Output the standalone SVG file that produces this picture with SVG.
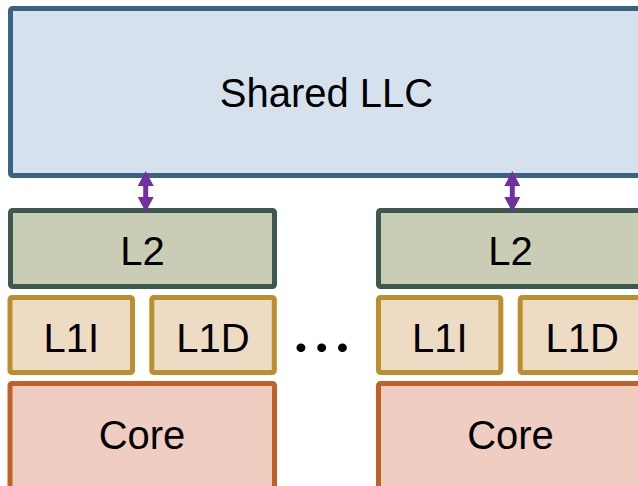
<svg xmlns="http://www.w3.org/2000/svg" width="638" height="486" viewBox="0 0 638 486">
  <defs>
    <style>
      .box { stroke-width: 5; stroke-linejoin: round; }
      .llc { fill: #d5e2ed; stroke: #3b6183; }
      .l2 { fill: #c9cdb6; stroke: #3e574f; }
      .l1 { fill: #eddcc3; stroke: #b98f2f; }
      .core { fill: #f0cdc1; stroke: #c1612a; }
      .lbl { font-family: "Liberation Sans", Arial, sans-serif; font-size: 40px; fill: #000; text-anchor: middle; }
      .link { fill: #7030a0; }
    </style>
    <!-- double-headed link, centred on x=0 -->
    <path id="dbl" d="M0,171 L8,186 L2.5,186 L2.5,197 L8,197 L0,212 L-8,197 L-2.5,197 L-2.5,186 L-8,186 Z"/>
  </defs>
  <rect width="638" height="486" fill="#ffffff"/>

  <g id="llc">
    <rect class="box llc" x="10.5" y="8.5" width="660" height="167" rx="2"/>
    <text class="lbl" x="326.5" y="107">Shared LLC</text>
  </g>

  <!-- first core tile -->
  <g id="l2-a">
    <rect class="box l2" x="10.5" y="210.5" width="264" height="76" rx="2"/>
    <text class="lbl" x="142.5" y="265">L2</text>
  </g>
  <g id="l1i-a">
    <rect class="box l1" x="10" y="297.5" width="122.5" height="75" rx="2"/>
    <text class="lbl" x="71.3" y="352">L1I</text>
  </g>
  <g id="l1d-a">
    <rect class="box l1" x="151.8" y="297.5" width="122.5" height="75" rx="2"/>
    <text class="lbl" x="213" y="352">L1D</text>
  </g>
  <g id="core-a">
    <rect class="box core" x="10" y="383.5" width="264.5" height="120" rx="2"/>
    <text class="lbl" x="142" y="449">Core</text>
  </g>

  <g id="ellipsis">
    <text x="325.7" y="352" font-family="Lato, sans-serif" font-weight="900" font-size="54" text-anchor="middle" letter-spacing="8">...</text>
  </g>

  <!-- second core tile -->
  <g id="l2-b">
    <rect class="box l2" x="378.5" y="210.5" width="300" height="76" rx="2"/>
    <text class="lbl" x="510.5" y="265">L2</text>
  </g>
  <g id="l1i-b">
    <rect class="box l1" x="378.5" y="297.5" width="122.3" height="75" rx="2"/>
    <text class="lbl" x="439.7" y="352">L1I</text>
  </g>
  <g id="l1d-b">
    <rect class="box l1" x="520.2" y="297.5" width="160" height="75" rx="2"/>
    <text class="lbl" x="582.3" y="352">L1D</text>
  </g>
  <g id="core-b">
    <rect class="box core" x="378.5" y="383.5" width="300" height="120" rx="2"/>
    <text class="lbl" x="510.5" y="449">Core</text>
  </g>

  <g id="connectors">
    <use href="#dbl" class="link" x="145.7"/>
    <use href="#dbl" class="link" x="512.3"/>
  </g>
</svg>
